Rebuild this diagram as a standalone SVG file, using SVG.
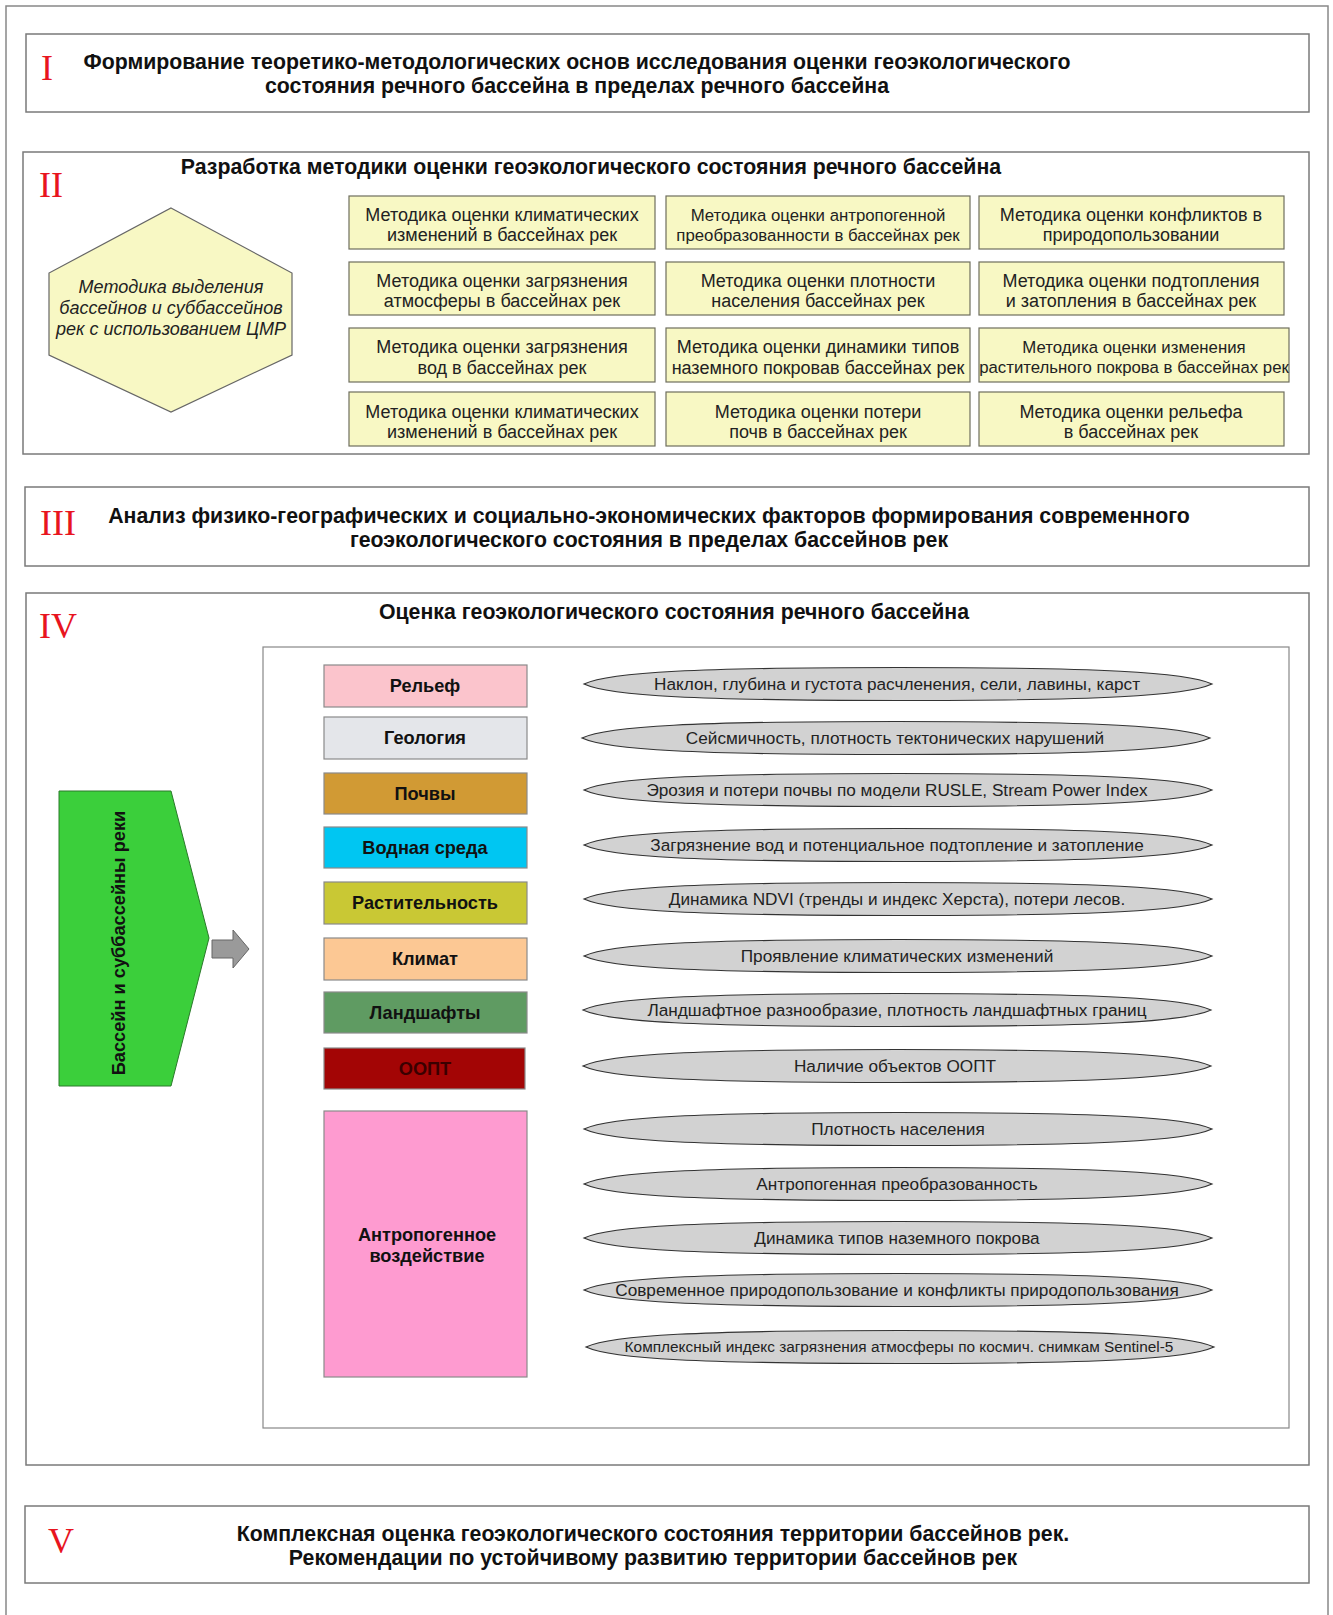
<svg xmlns="http://www.w3.org/2000/svg" width="1333" height="1615" viewBox="0 0 1333 1615">
<defs>
<style>
.frame{fill:#fff;stroke:#7a7a7a;stroke-width:1.5}
.title{font-family:"Liberation Sans",Arial,sans-serif;font-weight:bold;font-size:21.3px;fill:#111;text-anchor:middle}
.roman{font-family:"Liberation Serif","Times New Roman",serif;font-size:36px;fill:#e8141e;text-anchor:middle}
.meth rect{fill:#f8f8c4;stroke:#6e6e5e;stroke-width:1.2}
.mt{font-family:"Liberation Sans",Arial,sans-serif;font-size:18px;fill:#222;text-anchor:middle}
.fac{stroke:#8a8a8a;stroke-width:1.2}
.ft{font-family:"Liberation Sans",Arial,sans-serif;font-weight:bold;font-size:18.2px;fill:#111;text-anchor:middle}
.lens{fill:#d2d2d2;stroke:#333;stroke-width:1.2}
.lt{font-family:"Liberation Sans",Arial,sans-serif;font-size:17.2px;fill:#222;text-anchor:middle}
</style>
<path id="lensShape" class="lens" d="M-314,0 C-288,-12 -200,-16.5 0,-16.5 C200,-16.5 288,-12 314,0 C288,12 200,16.5 0,16.5 C-200,16.5 -288,12 -314,0 Z"/>
</defs>
<rect x="0" y="0" width="1333" height="1615" fill="#fff"/>
<rect x="6" y="6" width="1322" height="1620" fill="#fff" stroke="#888" stroke-width="1.5"/>

<g id="stage1">
<rect class="frame" x="26" y="34" width="1283" height="78"/>
<text class="roman" x="47" y="80">I</text>
<text class="title" x="577" y="69">Формирование теоретико-методологических основ исследования оценки геоэкологического</text>
<text class="title" x="577" y="93">состояния речного бассейна в пределах речного бассейна</text>
</g>

<g id="stage2">
<rect class="frame" x="23" y="152" width="1286" height="302"/>
<text class="roman" x="51" y="197">II</text>
<text class="title" x="591" y="174">Разработка методики оценки геоэкологического состояния речного бассейна</text>
</g>

<g id="hexagon">
<polygon points="171,208 292,273 292,355 171,412 49,355 49,273" fill="#f8f8c4" stroke="#666" stroke-width="1.2"/>
<g class="mt" font-style="italic">
<text x="171" y="293">Методика выделения</text>
<text x="171" y="314">бассейнов и суббассейнов</text>
<text x="171" y="335">рек с использованием ЦМР</text>
</g>
</g>

<g id="methods" class="meth">
<g id="m11"><rect x="349" y="196" width="306" height="53"/><text class="mt" x="502" y="221">Методика оценки климатических</text><text class="mt" x="502" y="241">изменений в бассейнах рек</text></g>
<g id="m12"><rect x="666" y="196" width="304" height="53"/><text class="mt" x="818" y="221" style="font-size:16.8px">Методика оценки антропогенной</text><text class="mt" x="818" y="241" style="font-size:16.8px">преобразованности  в бассейнах рек</text></g>
<g id="m13"><rect x="979" y="196" width="305" height="53"/><text class="mt" x="1131" y="221">Методика оценки конфликтов в</text><text class="mt" x="1131" y="241">природопользовании</text></g>

<g id="m21"><rect x="349" y="262" width="306" height="53"/><text class="mt" x="502" y="287">Методика оценки загрязнения</text><text class="mt" x="502" y="307">атмосферы в бассейнах рек</text></g>
<g id="m22"><rect x="666" y="262" width="304" height="53"/><text class="mt" x="818" y="287">Методика оценки плотности</text><text class="mt" x="818" y="307">населения бассейнах рек</text></g>
<g id="m23"><rect x="979" y="262" width="305" height="53"/><text class="mt" x="1131" y="287">Методика оценки подтопления</text><text class="mt" x="1131" y="307">и затопления в бассейнах рек</text></g>

<g id="m31"><rect x="349" y="328" width="306" height="54"/><text class="mt" x="502" y="353">Методика оценки загрязнения</text><text class="mt" x="502" y="374">вод в бассейнах рек</text></g>
<g id="m32"><rect x="666" y="328" width="304" height="54"/><text class="mt" x="818" y="353">Методика оценки динамики типов</text><text class="mt" x="818" y="374">наземного покровав бассейнах рек</text></g>
<g id="m33"><rect x="979" y="328" width="310" height="54"/><text class="mt" x="1134" y="353" style="font-size:16.8px">Методика оценки изменения</text><text class="mt" x="1134" y="373" style="font-size:16.8px">растительного покрова в бассейнах рек</text></g>

<g id="m41"><rect x="349" y="392" width="306" height="54"/><text class="mt" x="502" y="418">Методика оценки климатических</text><text class="mt" x="502" y="438">изменений в бассейнах рек</text></g>
<g id="m42"><rect x="666" y="392" width="304" height="54"/><text class="mt" x="818" y="418">Методика оценки потери</text><text class="mt" x="818" y="438">почв  в бассейнах рек</text></g>
<g id="m43"><rect x="979" y="392" width="305" height="54"/><text class="mt" x="1131" y="418">Методика оценки рельефа</text><text class="mt" x="1131" y="438">в бассейнах рек</text></g>
</g>

<g id="stage3">
<rect class="frame" x="25" y="487" width="1284" height="79"/>
<text class="roman" x="58" y="535">III</text>
<text class="title" x="649" y="523">Анализ физико-географических и социально-экономических факторов формирования современного</text>
<text class="title" x="649" y="547">геоэкологического состояния в пределах бассейнов рек</text>
</g>

<g id="stage4">
<rect class="frame" x="26" y="593" width="1283" height="872"/>
<text class="roman" x="58" y="638">IV</text>
<text class="title" x="674" y="619">Оценка геоэкологического состояния речного бассейна</text>
<rect x="263" y="647" width="1026" height="781" fill="#fff" stroke="#888" stroke-width="1.2"/>
</g>

<g id="basin">
<polygon points="59,791 171,791 209,938 171,1086 59,1086" fill="#3bcf3b" stroke="#2a7a2a" stroke-width="1"/>
<text x="120" y="943" transform="rotate(-90 120 943)" text-anchor="middle" dominant-baseline="middle" font-family="'Liberation Sans',Arial,sans-serif" font-weight="bold" font-size="18.2" fill="#111">Бассейн и суббассейны реки</text>
</g>

<g id="connectors">
<polygon points="212,940 233,940 233,930 249,949 233,968 233,958 212,958" fill="#9a9a9a" stroke="#666" stroke-width="1"/>
</g>

<g id="factors">
<g id="f1"><rect class="fac" x="324" y="665" width="203" height="42" fill="#fbc4cc"/><text class="ft" x="425" y="692">Рельеф</text></g>
<g id="f2"><rect class="fac" x="324" y="717" width="203" height="42" fill="#e4e6ea"/><text class="ft" x="425" y="744">Геология</text></g>
<g id="f3"><rect class="fac" x="324" y="773" width="203" height="41" fill="#d19a34"/><text class="ft" x="425" y="800">Почвы</text></g>
<g id="f4"><rect class="fac" x="324" y="827" width="203" height="41" fill="#00c6f2"/><text class="ft" x="425" y="854">Водная среда</text></g>
<g id="f5"><rect class="fac" x="324" y="882" width="203" height="42" fill="#c9c834"/><text class="ft" x="425" y="909">Растительность</text></g>
<g id="f6"><rect class="fac" x="324" y="938" width="203" height="42" fill="#fcc894"/><text class="ft" x="425" y="965">Климат</text></g>
<g id="f7"><rect class="fac" x="324" y="992" width="203" height="41" fill="#5f9b62"/><text class="ft" x="425" y="1019">Ландшафты</text></g>
<g id="f8"><rect class="fac" x="324" y="1048" width="201" height="41" fill="#a30505"/><text class="ft" x="425" y="1075" style="fill:#3a0000">ООПТ</text></g>
<g id="f9"><rect class="fac" x="324" y="1111" width="203" height="266" fill="#fe9bd0"/><text class="ft" x="427" y="1241">Антропогенное</text><text class="ft" x="427" y="1262">воздействие</text></g>
</g>

<g id="indicators">
<g id="e1"><use href="#lensShape" transform="translate(898,684)"/><text class="lt" x="897" y="690">Наклон, глубина и густота расчленения, сели, лавины, карст</text></g>
<g id="e2"><use href="#lensShape" transform="translate(896,738)"/><text class="lt" x="895" y="744">Сейсмичность, плотность тектонических нарушений</text></g>
<g id="e3"><use href="#lensShape" transform="translate(898,790)"/><text class="lt" x="897" y="796">Эрозия и потери почвы по модели RUSLE, Stream Power Index</text></g>
<g id="e4"><use href="#lensShape" transform="translate(898,845)"/><text class="lt" x="897" y="851">Загрязнение вод и потенциальное подтопление и затопление</text></g>
<g id="e5"><use href="#lensShape" transform="translate(898,899)"/><text class="lt" x="897" y="905">Динамика NDVI (тренды и индекс Херста), потери лесов.</text></g>
<g id="e6"><use href="#lensShape" transform="translate(898,956)"/><text class="lt" x="897" y="962">Проявление климатических изменений</text></g>
<g id="e7"><use href="#lensShape" transform="translate(897,1010)"/><text class="lt" x="897" y="1016">Ландшафтное разнообразие, плотность ландшафтных границ</text></g>
<g id="e8"><use href="#lensShape" transform="translate(897,1066)"/><text class="lt" x="895" y="1072">Наличие объектов ООПТ</text></g>
<g id="e9"><use href="#lensShape" transform="translate(898,1129)"/><text class="lt" x="898" y="1135">Плотность населения</text></g>
<g id="e10"><use href="#lensShape" transform="translate(898,1184)"/><text class="lt" x="897" y="1190">Антропогенная преобразованность</text></g>
<g id="e11"><use href="#lensShape" transform="translate(898,1238)"/><text class="lt" x="897" y="1244">Динамика типов наземного покрова</text></g>
<g id="e12"><use href="#lensShape" transform="translate(898,1290)"/><text class="lt" x="897" y="1296">Современное природопользование и конфликты природопользования</text></g>
<g id="e13"><use href="#lensShape" transform="translate(900,1347)"/><text class="lt" x="899" y="1352" style="font-size:15.4px">Комплексный индекс загрязнения атмосферы по космич. снимкам Sentinel-5</text></g>
</g>

<g id="stage5">
<rect class="frame" x="25" y="1506" width="1284" height="77"/>
<text class="roman" x="61" y="1553">V</text>
<text class="title" x="653" y="1541">Комплексная оценка геоэкологического состояния территории бассейнов рек.</text>
<text class="title" x="653" y="1565">Рекомендации по устойчивому развитию территории бассейнов рек</text>
</g>
</svg>
